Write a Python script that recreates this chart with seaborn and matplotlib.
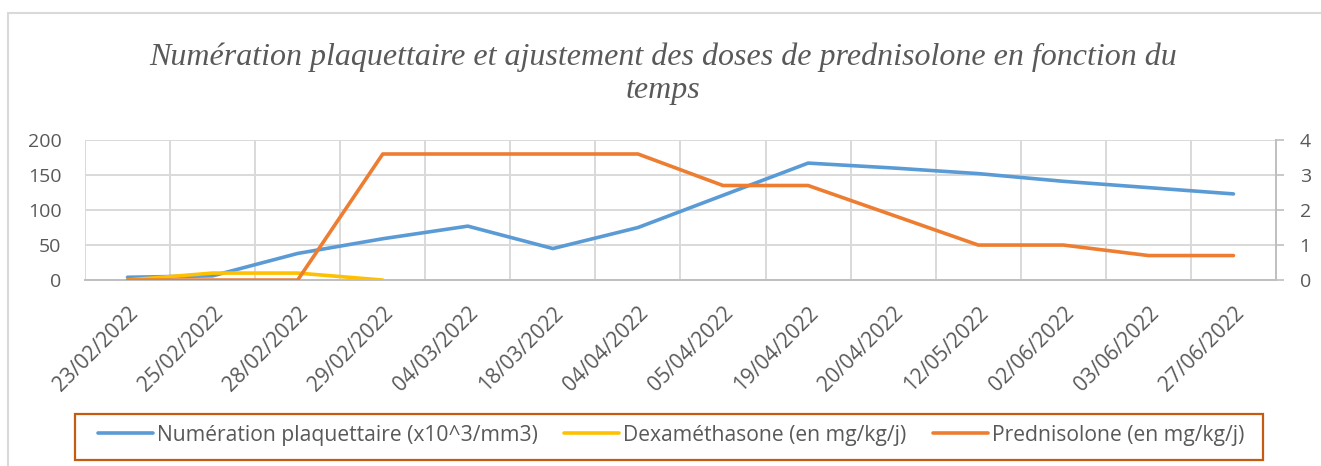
import numpy as np
import pandas as pd
import seaborn as sns
import matplotlib.pyplot as plt
from matplotlib.patches import Rectangle

dates = ['23/02/2022', '25/02/2022', '28/02/2022', '29/02/2022', '04/03/2022',
         '18/03/2022', '04/04/2022', '05/04/2022', '19/04/2022', '20/04/2022',
         '12/05/2022', '02/06/2022', '03/06/2022', '27/06/2022']
plaquettes = [4, 6, 38, 59, 77, 45, 75, 121, 167, 160, 152, 141, 132, 123]
dexa = [0, 0.2, 0.2, 0] + [np.nan] * 10
predni = [0, 0, 0, 3.6, 3.6, 3.6, 3.6, 2.7, 2.7, 1.85, 1.0, 1.0, 0.7, 0.7]

lab_pla = 'Numération plaquettaire (x10^3/mm3)'
lab_dexa = 'Dexaméthasone (en mg/kg/j)'
lab_pred = 'Prednisolone (en mg/kg/j)'

blue, yellow, orange = '#5B9BD5', '#FFC000', '#ED7D31'
grey_txt = '#595959'
grid_col = '#D9D9D9'

sns.set_style('white')
plt.rcParams['font.family'] = ['Open Sans', 'DejaVu Sans']

idx = np.arange(len(dates))
df_left = pd.DataFrame({'x': idx, 'y': plaquettes})
df_right = pd.DataFrame({'x': np.concatenate([idx, idx]),
                         'y': dexa + predni,
                         'serie': [lab_dexa] * len(dates) + [lab_pred] * len(dates)})

fig = plt.figure(figsize=(13.21, 4.66), dpi=100)
ax = fig.add_axes([85 / 1321, 0.399, 1191 / 1321, 0.3006])
ax2 = ax.twinx()

sns.lineplot(data=df_left, x='x', y='y', ax=ax, color=blue, lw=2.6, legend=False)
sns.lineplot(data=df_right.dropna(), x='x', y='y', hue='serie', ax=ax2,
             palette={lab_dexa: yellow, lab_pred: orange}, lw=2.6, legend=False)

# axes ranges
ax.set_xlim(-0.5, len(dates) - 0.5)
ax.set_ylim(0, 200)
ax.set_yticks([0, 50, 100, 150, 200])
ax2.set_ylim(0, 4)
ax2.set_yticks([0, 1, 2, 3, 4])
for a in (ax, ax2):
    a.set_xlabel('')
    a.set_ylabel('')

# grid: horizontal at ticks, vertical between categories
ax.set_xticks(idx)
ax.set_xticks(np.arange(-0.5, len(dates), 1), minor=True)
ax.grid(True, which='major', axis='y', color=grid_col, lw=1.4)
ax.grid(True, which='minor', axis='x', color=grid_col, lw=1.4)
ax.grid(False, which='major', axis='x')
ax.set_axisbelow(True)

ax.set_xticklabels(dates, rotation=45, ha='right', va='top',
                   rotation_mode='anchor', fontsize=15, color=grey_txt)
ax.tick_params(axis='x', which='both', length=0, pad=16)
ax.tick_params(axis='y', length=0, labelsize=14, labelcolor=grey_txt, pad=17)
ax2.tick_params(axis='y', length=6, width=1.2, color='#BFBFBF',
                labelsize=14, labelcolor=grey_txt, pad=11)

for s in ['top', 'left', 'right']:
    ax.spines[s].set_visible(False)
ax.spines['bottom'].set_color('#BFBFBF')
ax.spines['bottom'].set_linewidth(1.4)
for s in ['top', 'left', 'bottom']:
    ax2.spines[s].set_visible(False)
ax2.spines['right'].set_color('#BFBFBF')
ax2.spines['right'].set_linewidth(1.4)

fig.text(0.502, 0.842,
         'Numération plaquettaire et ajustement des doses de prednisolone en fonction du\ntemps',
         ha='center', va='center', fontsize=23, style='italic', color=grey_txt,
         family=['Liberation Serif', 'DejaVu Serif'], linespacing=1.15)

# legend (entries centred, box drawn separately like Excel)
h = [plt.Line2D([], [], color=c, lw=2.6) for c in (blue, yellow, orange)]
leg = fig.legend(h, [lab_pla, lab_dexa, lab_pred], loc='center',
                 bbox_to_anchor=(0.508, 0.066), ncol=3, fontsize=15.2,
                 frameon=False, handlelength=2.6, handletextpad=0.2,
                 columnspacing=1.25)
for t in leg.get_texts():
    t.set_color(grey_txt)
fig.patches.append(Rectangle((75 / 1321, 1 - 460 / 466), (1263 - 75) / 1321, 46 / 466,
                             transform=fig.transFigure, fill=False,
                             edgecolor='#C55A11', lw=1.6))

# outer chart border
fig.patches.append(Rectangle((8 / 1321, -0.05), 1.2, 1 - 13 / 466 + 0.05,
                             transform=fig.transFigure, fill=False,
                             edgecolor='#D9D9D9', lw=1.5))

fig.savefig('out.png', dpi=100)
